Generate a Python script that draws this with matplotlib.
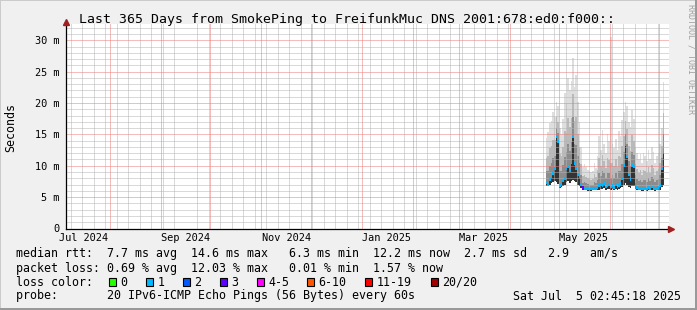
"""SmokePing 365-day latency graph, redrawn with matplotlib (rrdtool look)."""

import datetime as dt
import numpy as np
import matplotlib
matplotlib.use("Agg")
import matplotlib.pyplot as plt
import matplotlib.dates as mdates
from matplotlib.patches import Rectangle
from matplotlib.ticker import MultipleLocator, FuncFormatter, FixedLocator

W, H = 697, 310
MONO = "DejaVu Sans Mono"

# ---------------------------------------------------------------- data (ms)
# one sample per day, starting 2025-04-23
first_day = dt.datetime(2025, 4, 23)
t_end = dt.datetime(2025, 7, 5, 2, 45, 18)

rtt_min = [6.8, 6.7, 7.0, 7.2, 7.4, 7.6, 7.4, 7.1, 6.5, 6.6, 6.8, 7.0, 7.4, 7.5,
           7.3, 7.5, 7.8, 7.5, 7.4, 7.0, 6.8, 6.4, 6.2, 6.1, 6.1, 6.0, 6.0, 6.0,
           6.1, 6.1, 6.1, 6.1, 6.2, 6.3, 6.3, 6.4, 6.2, 6.3, 6.3, 6.2, 6.3, 6.2,
           6.3, 6.2, 6.3, 6.4, 6.6, 6.9, 7.2, 7.0, 6.6, 6.5, 6.8, 6.7, 6.3, 6.2,
           6.1, 6.1, 6.0, 6.0, 6.1, 6.0, 6.1, 6.1, 6.2, 6.1, 6.0, 6.1, 6.1, 6.2,
           6.6, 7.0]
rtt_med = [7.3, 7.0, 7.8, 8.2, 8.8, 9.5, 14.6, 13.8, 6.9, 7.2, 7.6, 8.0, 9.6, 9.8,
           9.2, 10.5, 14.6, 10.4, 9.6, 8.6, 8.2, 7.0, 6.5, 6.4, 6.3, 6.3, 6.2, 6.3,
           6.3, 6.4, 6.4, 6.5, 6.8, 7.0, 6.9, 7.2, 6.6, 6.8, 7.0, 6.6, 6.8, 6.5,
           7.0, 6.6, 6.9, 7.2, 8.0, 10.1, 13.3, 11.5, 8.6, 7.8, 10.0, 9.8, 7.0, 6.5,
           6.4, 6.4, 6.3, 6.3, 6.4, 6.3, 6.5, 6.4, 6.6, 6.4, 6.3, 6.4, 6.5, 6.8,
           9.6, 12.2]
rtt_q3 = [9.1, 9.1, 10.0, 10.4, 11.2, 11.6, 16.0, 15.2, 9.2, 9.1, 10.1, 11.4, 12.2, 13.4,
          12.4, 13.8, 17.8, 13.4, 13.3, 11.5, 10.4, 8.5, 7.3, 7.4, 7.2, 7.1, 7.0, 7.0,
          7.0, 7.4, 7.2, 7.8, 8.8, 8.4, 9.1, 8.8, 8.0, 8.9, 8.8, 8.0, 8.5, 8.1,
          8.8, 8.1, 9.1, 9.1, 10.3, 12.2, 15.0, 13.5, 10.7, 9.9, 12.2, 11.7, 8.5, 7.9,
          7.6, 7.8, 7.4, 7.7, 7.7, 7.4, 8.0, 7.6, 8.2, 7.9, 7.4, 7.7, 7.9, 8.5,
          11.2, 15.0]
rtt_p90 = [11.3, 11.6, 12.8, 13.2, 14.1, 14.1, 17.7, 16.9, 11.9, 11.5, 13.0, 15.5, 15.2, 17.6,
           16.2, 17.6, 21.5, 17.1, 17.8, 15.0, 13.0, 10.3, 8.3, 8.5, 8.2, 8.0, 7.9, 7.8,
           7.9, 8.7, 8.2, 9.3, 11.2, 10.0, 11.7, 10.7, 9.6, 11.3, 10.9, 10.5, 10.5, 10.0,
           11.0, 9.8, 11.6, 11.4, 13.1, 14.7, 17.1, 15.9, 13.2, 12.4, 14.9, 14.0, 10.3, 9.5,
           8.9, 9.4, 8.6, 9.4, 9.2, 8.8, 9.8, 8.9, 10.1, 9.6, 8.6, 9.2, 9.5, 10.5,
           13.1, 18.4]
rtt_max = [14.5, 15.4, 16.8, 17.2, 18.5, 17.8, 20.2, 19.5, 16.0, 15.0, 17.5, 21.6, 19.8, 24.0,
           22.0, 23.5, 27.2, 22.6, 24.5, 20.2, 17.0, 13.0, 9.8, 10.3, 9.8, 9.4, 9.2, 9.0,
           9.2, 10.5, 9.6, 11.5, 14.8, 12.5, 15.7, 13.5, 12.0, 15.0, 14.0, 30.5, 13.5, 12.8,
           14.2, 12.5, 15.5, 14.8, 17.3, 18.5, 20.2, 19.5, 17.0, 16.2, 18.9, 17.5, 13.0, 12.0,
           11.0, 11.8, 10.5, 12.0, 11.5, 10.8, 12.5, 11.0, 13.0, 12.2, 10.5, 11.5, 12.0, 13.5,
           16.0, 23.4]
# loss colour class of the median (index into loss_labels)
loss_cls = [1, 1, 1, 1, 1, 1, 1, 1, 1, 1, 1, 1, 1, 1, 1, 1, 1, 1, 1, 1, 1, 1, 3, 1,
            1, 1, 1, 1, 1, 1, 1, 1, 1, 1, 1, 1, 1, 1, 1, 1, 1, 1, 1, 1, 1, 1, 1, 1,
            1, 1, 1, 1, 1, 1, 1, 1, 1, 1, 1, 1, 1, 1, 1, 1, 1, 1, 1, 1, 1, 1, 1, 1]

loss_labels = ["0", "1", "2", "3", "4-5", "6-10", "11-19", "20/20"]
loss_colors = ["#26ff00", "#00b8ff", "#0059ff", "#5e00ff", "#ff00ff",
               "#ff5500", "#ff0000", "#a10000"]

title = "Last 365 Days from SmokePing to FreifunkMuc DNS 2001:678:ed0:f000::"
line_rtt = "median rtt:  7.7 ms avg  14.6 ms max   6.3 ms min  12.2 ms now  2.7 ms sd   2.9   am/s"
line_loss = "packet loss: 0.69 % avg  12.03 % max   0.01 % min  1.57 % now"
line_probe = "probe:       20 IPv6-ICMP Echo Pings (56 Bytes) every 60s"
stamp = "Sat Jul  5 02:45:18 2025"


# ---------------------------------------------------------------- helpers
def fx(px):
    return px / W


def fy(py):
    return 1 - py / H


# ---------------------------------------------------------------- figure
fig = plt.figure(figsize=(W / 100, H / 100), dpi=100, facecolor="#f0f0f0")
# canvas: x 66..669, y 24..228.5 (pixels)
ax = fig.add_axes([fx(66), fy(228.5), fx(669 - 66), (228.5 - 24) / H])
ax.set_facecolor("white")

t_start = t_end - dt.timedelta(days=365)
x0 = mdates.date2num(t_start)
x1 = mdates.date2num(t_end) + 1.8          # white canvas runs a little past "now"
ax.set_xlim(x0, x1)
ax.set_ylim(0, 32.6)

# smoke: bands between sorted ping percentiles, darker toward the median
days = mdates.date2num([first_day + dt.timedelta(days=i) for i in range(len(rtt_med))])
xs = np.append(days, days[-1] + 1)


def ext(a):
    return np.append(a, a[-1])


bands = [(rtt_min, rtt_med, "#333333"),
         (rtt_med, rtt_q3, "#8c8c8c"),
         (rtt_q3, rtt_p90, "#bababa"),
         (rtt_p90, rtt_max, "#dedede")]
for lo, hi, col in bands:
    ax.fill_between(xs, ext(lo), ext(hi), step="post", color=col, lw=0, zorder=1)

# median, coloured by packet loss
med = np.array(rtt_med)
ax.bar(days, 0.45, bottom=med - 0.22, width=1.0, align="edge",
       color=[loss_colors[c] for c in loss_cls], lw=0, zorder=2)

# grid (rrdtool draws it over the graph)
dots = (0, (1, 1))
ax.yaxis.set_major_locator(MultipleLocator(5))
ax.yaxis.set_minor_locator(MultipleLocator(1))
ax.xaxis.set_minor_locator(mdates.WeekdayLocator(byweekday=mdates.MO))
ax.grid(which="minor", color="#b4b4b4", ls=dots, lw=0.72, zorder=2.5)
ax.grid(which="major", axis="y", color="#ec7a7a", ls=dots, lw=0.72, zorder=2.6)
ax.grid(which="major", axis="x", visible=False)
for m in mdates.MonthLocator().tick_values(t_start, t_end):
    ax.axvline(m, color="#ec7a7a", ls=dots, lw=0.72, zorder=2.6)

# labels: every second month, centred half a month after the month start
lab_dates = [mdates.date2num(dt.datetime(y, mo, 1) + dt.timedelta(days=15))
             for y, mo in [(2024, 7), (2024, 9), (2024, 11), (2025, 1), (2025, 3), (2025, 5)]]
ax.xaxis.set_major_locator(FixedLocator(lab_dates))
ax.xaxis.set_major_formatter(mdates.DateFormatter("%b %Y"))
ax.yaxis.set_major_formatter(FuncFormatter(lambda v, p: "0" if v == 0 else f"{v:.0f} m"))
ax.tick_params(which="both", length=0, labelsize=7.4, colors="black")
ax.tick_params(axis="x", pad=3.0)
ax.tick_params(axis="y", pad=4.6)
for lab in ax.get_xticklabels() + ax.get_yticklabels():
    lab.set_family(MONO)

for s in ("top", "right"):
    ax.spines[s].set_visible(False)
for s in ("left", "bottom"):
    ax.spines[s].set_color("black")
    ax.spines[s].set_linewidth(0.9)
    ax.spines[s].set_zorder(3)
ax.plot([1.003], [0], marker=">", ms=4.5, color="#a02020", transform=ax.transAxes,
        clip_on=False, zorder=4)
ax.plot([0], [1.008], marker="^", ms=4.5, color="#a02020", transform=ax.transAxes,
        clip_on=False, zorder=4)

# ---------------------------------------------------------------- texts
fs = 8.4
fig.text(fx(347), fy(19.5), title, ha="center", va="center", family=MONO, fontsize=9.5)
fig.text(fx(10.5), fy(128), "Seconds", rotation=90, ha="center", va="center",
         family=MONO, fontsize=fs)
fig.text(fx(690.5), fy(4), "RRDTOOL / TOBI OETIKER", rotation=270, ha="center", va="top",
         family=MONO, fontsize=6.0, color="#a0a0a0")

fig.text(fx(15.5), fy(254), line_rtt, ha="left", va="center", family=MONO, fontsize=fs)
fig.text(fx(15.5), fy(268.3), line_loss, ha="left", va="center", family=MONO, fontsize=fs)
fig.text(fx(15.5), fy(282), "loss color:", ha="left", va="center", family=MONO, fontsize=fs)
fig.text(fx(15.5), fy(296), line_probe, ha="left", va="center", family=MONO, fontsize=fs)
fig.text(fx(681), fy(296), stamp, ha="right", va="center", family=MONO, fontsize=fs)

box_left = [108.7, 146, 182.7, 220, 257.3, 306.7, 365, 430.7]
for bx, lab, col in zip(box_left, loss_labels, loss_colors):
    fig.add_artist(Rectangle((fx(bx), fy(285.5)), 7 / W, 7.5 / H, transform=fig.transFigure,
                             facecolor=col, edgecolor="black", lw=0.8))
    fig.text(fx(bx + 11.5), fy(282), lab, ha="left", va="center", family=MONO, fontsize=fs)

# rrdtool style 3-D frame
fig.add_artist(Rectangle((0, fy(1)), 1, 1 / H, transform=fig.transFigure,
                         facecolor="#cbcbcb", lw=0))
fig.add_artist(Rectangle((0, 0), 1 / W, 1, transform=fig.transFigure,
                         facecolor="#cbcbcb", lw=0))
fig.add_artist(Rectangle((fx(695), 0), 2 / W, 1, transform=fig.transFigure,
                         facecolor="#999999", lw=0))
fig.add_artist(Rectangle((0, 0), 1, 2 / H, transform=fig.transFigure,
                         facecolor="#999999", lw=0))

fig.savefig("out.png", dpi=100, facecolor=fig.get_facecolor())
plt.close(fig)
